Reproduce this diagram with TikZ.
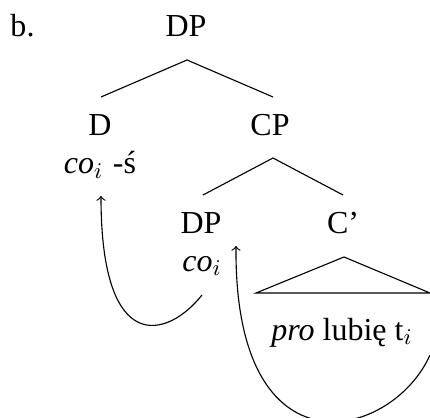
\documentclass[tikz,border=0pt]{standalone}
\usepackage{fontspec}
\setmainfont{Liberation Serif}
\begin{document}
\begin{tikzpicture}[x=0.4pt,y=-0.4pt,
  lbl/.style={anchor=base,inner sep=0pt,font=\fontsize{12.8}{15}\selectfont},
  edge/.style={line width=0.45pt},
  mv/.style={line width=0.45pt,->}]
\useasboundingbox (0,0) rectangle (430,417);
\node[lbl,anchor=base west] (b) at (10,37) {b.};
\node[lbl] (dp) at (186,37) {DP};
\node[lbl] (d) at (100,136) {D};
\node[lbl] (cp) at (270,136) {CP};
\node[lbl] (dco) at (100,174) {\textit{co}$_i$\hspace{0.3em}-ś};
\node[lbl] (dp2) at (201,234) {DP};
\node[lbl] (cbar) at (343,234) {C’};
\node[lbl] (co2) at (202,271) {\textit{co}$_i$};
\node[lbl] (tp) at (342,340) {\textit{pro} lubię t$_i$};
\coordinate (a1) at (187,60);
\coordinate (a1l) at (101,97);
\coordinate (a1r) at (273,97);
\coordinate (a2) at (273,158);
\coordinate (a2l) at (203,195);
\coordinate (a2r) at (343,195);
\coordinate (t1) at (344,257);
\coordinate (t1l) at (256,293);
\coordinate (t1r) at (430,293);
\draw[edge] (a1l) -- (a1) -- (a1r);
\draw[edge] (a2l) -- (a2) -- (a2r);
\draw[edge] (t1l) -- (t1) -- (t1r) -- cycle;
\coordinate (s1) at (202,295);
\coordinate (e1) at (101,196);
\coordinate (s2) at (430,355);
\coordinate (e2) at (236,246);
\draw[mv] (s1) .. controls (168,338) and (101,358) .. (e1);
\draw[mv] (s2) .. controls (392,440) and (234,480) .. (e2);
\end{tikzpicture}
\end{document}
